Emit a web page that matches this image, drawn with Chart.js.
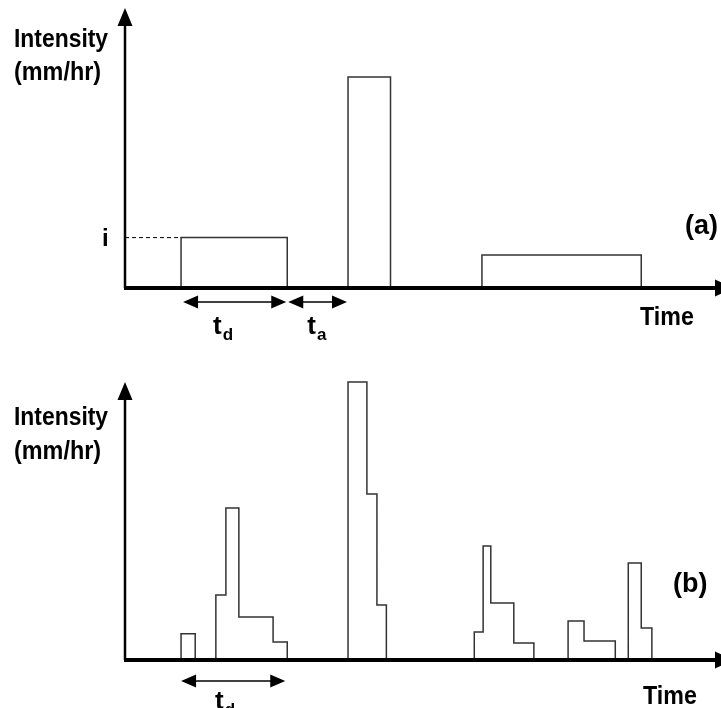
<!DOCTYPE html>
<html>
<head>
<meta charset="utf-8">
<script src="https://cdn.jsdelivr.net/npm/chart.js@4"></script>
<style>
  body { margin: 0; background: #fff; }
  #wrap { position: relative; width: 721px; height: 708px; overflow: hidden; }
  canvas { position: absolute; left: 0; }
  #panelA { top: 0; }
  #panelB { top: 340px; }
</style>
</head>
<body>
<div id="wrap">
  <canvas id="panelA" width="721" height="352"></canvas>
  <canvas id="panelB" width="721" height="368"></canvas>
</div>
<script>
// Time and intensity are in arbitrary units (axis runs 0..100)
const axisMax = 100;

// (a) storms as single rectangular pulses
const stormStartA = [9.5, 37.8, 60.5];
const stormEndA = [27.5, 45.0, 87.5];
const stormIntensityA = [18.0, 75.4, 11.8];

// (b) storms made of several pulses: edges of each pulse and its intensity
const pulseEdgesB = [
  [9.5, 11.9],
  [15.4, 17.1, 19.3, 25.1, 27.5],
  [37.8, 41.0, 42.7, 44.3],
  [59.2, 60.7, 62.0, 65.9, 69.3],
  [75.1, 77.8, 83.1],
  [85.3, 87.5, 89.3]
];
const pulseIntensityB = [
  [9.4],
  [23.4, 54.7, 15.5, 6.5],
  [100, 59.7, 19.8],
  [10.1, 41.0, 20.5, 6.1],
  [14.0, 6.8],
  [34.9, 11.5]
];

const FONT = '"Liberation Sans", Arial, sans-serif';

// turn storms into a step outline, with a null point to break between storms
function stepPoints(edges, heights) {
  var pts = [];
  for (var s = 0; s < edges.length; s++) {
    var e = edges[s], h = heights[s];
    pts.push({x: e[0], y: 0});
    for (var k = 0; k < h.length; k++) {
      pts.push({x: e[k], y: h[k]});
      pts.push({x: e[k + 1], y: h[k]});
    }
    pts.push({x: e[e.length - 1], y: 0});
    pts.push({x: e[e.length - 1], y: null});
  }
  return pts;
}

function drawText(ctx, text, x, y, size, sx) {
  ctx.save();
  ctx.font = 'bold ' + size + 'px ' + FONT;
  ctx.textBaseline = 'alphabetic';
  ctx.textAlign = 'left';
  ctx.translate(x, y);
  ctx.scale(sx || 1, 1);
  ctx.fillText(text, 0, 0);
  ctx.restore();
}

function subLabel(ctx, main, sub, x, y) {
  drawText(ctx, main, x, y, 26, 1);
  ctx.font = 'bold 26px ' + FONT;
  var w = ctx.measureText(main).width;
  drawText(ctx, sub, x + w + 1, y + 6, 17, 1);
}

function head(ctx, tipX, tipY, dx, dy, len, half) {
  // dx,dy unit direction the arrow points to
  var bx = tipX - dx * len, by = tipY - dy * len;
  ctx.beginPath();
  ctx.moveTo(tipX, tipY);
  ctx.lineTo(bx - dy * half, by + dx * half);
  ctx.lineTo(bx + dy * half, by - dx * half);
  ctx.closePath();
  ctx.fill();
}

function spanArrow(ctx, x1, x2, y) {
  ctx.lineWidth = 1.5;
  ctx.beginPath();
  ctx.moveTo(x1 + 10, y);
  ctx.lineTo(x2 - 10, y);
  ctx.stroke();
  head(ctx, x1, y, -1, 0, 15, 6.5);
  head(ctx, x2, y, 1, 0, 15, 6.5);
}

function axesPlugin(cfg) {
  return {
    id: 'axesDecor',
    afterDraw: function(chart) {
      var ctx = chart.ctx;
      var a = chart.chartArea;
      var xs = chart.scales.x, ys = chart.scales.y;
      ctx.save();
      ctx.fillStyle = '#000';
      ctx.strokeStyle = '#000';

      // y axis with arrow
      ctx.lineWidth = 2.5;
      ctx.beginPath();
      ctx.moveTo(a.left, a.bottom);
      ctx.lineTo(a.left, a.top + 14);
      ctx.stroke();
      head(ctx, a.left, a.top, 0, -1, 18, 7.5);

      // x axis with arrow
      ctx.lineWidth = 4;
      ctx.beginPath();
      ctx.moveTo(a.left - 1, a.bottom);
      ctx.lineTo(a.right + 2, a.bottom);
      ctx.stroke();
      head(ctx, a.right + 18, a.bottom, 1, 0, 18, 8.5);

      // labels
      drawText(ctx, 'Intensity', 14, a.top + cfg.intensityDy, 26, 0.88);
      drawText(ctx, '(mm/hr)', 14, a.top + cfg.unitDy, 26, 0.9);
      drawText(ctx, 'Time', cfg.timeX, a.bottom + cfg.timeDy, 25, 0.93);
      drawText(ctx, cfg.tag, cfg.tagX, a.bottom + cfg.tagDy, 27, 1);

      cfg.extra(ctx, a, xs, ys);
      ctx.restore();
    }
  };
}

function makeChart(id, points, cfg) {
  return new Chart(document.getElementById(id), {
    type: 'line',
    data: {
      datasets: [{
        data: points,
        borderColor: '#333',
        borderWidth: 1.5,
        pointRadius: 0,
        fill: false,
        tension: 0,
        spanGaps: false,
        clip: false
      }]
    },
    options: {
      responsive: false,
      animation: false,
      events: [],
      layout: { padding: cfg.padding },
      plugins: { legend: { display: false }, tooltip: { enabled: false } },
      scales: {
        x: { type: 'linear', min: 0, max: axisMax, display: false },
        y: { type: 'linear', min: 0, max: axisMax, display: false }
      }
    },
    plugins: [axesPlugin(cfg)]
  });
}

// panel (a)
var edgesA = [], heightsA = [];
for (var i = 0; i < stormStartA.length; i++) {
  edgesA.push([stormStartA[i], stormEndA[i]]);
  heightsA.push([stormIntensityA[i]]);
}

makeChart('panelA', stepPoints(edgesA, heightsA), {
  padding: { left: 125, right: 6, top: 8, bottom: 64 },
  intensityDy: 39, unitDy: 72,
  timeX: 640, timeDy: 37,
  tag: '(a)', tagX: 685, tagDy: -54,
  extra: function(ctx, a, xs, ys) {
    var yi = ys.getPixelForValue(stormIntensityA[0]);
    var x0 = xs.getPixelForValue(stormStartA[0]);
    var x1 = xs.getPixelForValue(stormEndA[0]);
    var x2 = xs.getPixelForValue(stormStartA[1]);
    // dashed intensity guide
    ctx.save();
    ctx.lineWidth = 1;
    ctx.setLineDash([4, 3]);
    ctx.beginPath();
    ctx.moveTo(a.left, yi);
    ctx.lineTo(x0, yi);
    ctx.stroke();
    ctx.restore();
    drawText(ctx, 'i', 102, yi + 8, 24, 1);
    // duration and inter-arrival arrows
    var ay = a.bottom + 14;
    spanArrow(ctx, x0 + 2, x1 - 1, ay);
    spanArrow(ctx, x1 + 1, x2 - 1, ay);
    subLabel(ctx, 't', 'd', x0 + 32, a.bottom + 46);
    subLabel(ctx, 't', 'a', x1 + 20, a.bottom + 46);
  }
});

// panel (b)
makeChart('panelB', stepPoints(pulseEdgesB, pulseIntensityB), {
  padding: { left: 125, right: 6, top: 42, bottom: 48 },
  intensityDy: 43, unitDy: 77,
  timeX: 643, timeDy: 44,
  tag: '(b)', tagX: 673, tagDy: -68,
  extra: function(ctx, a, xs, ys) {
    var first = pulseEdgesB[0], second = pulseEdgesB[1];
    var x0 = xs.getPixelForValue(first[0]);
    var x1 = xs.getPixelForValue(second[second.length - 1]);
    spanArrow(ctx, x0, x1 - 2, a.bottom + 21);
    subLabel(ctx, 't', 'd', x0 + 34, a.bottom + 49);
  }
});
</script>
</body>
</html>
